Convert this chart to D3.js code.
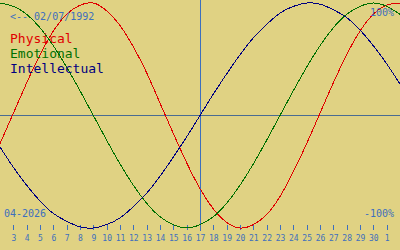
<!DOCTYPE html>
<html>
<head>
<meta charset="utf-8">
<script src="https://cdn.jsdelivr.net/npm/d3@7"></script>
<style>
  html, body { margin: 0; padding: 0; background: #e0d283; }
  svg { display: block; }
  text { font-family: "DejaVu Sans Mono", monospace; }
</style>
</head>
<body>
<svg class="Bio"></svg>
<script>
// days shown on the x axis (02 Apr .. 02 May), one point per day
const days = [2, 3, 4, 5, 6, 7, 8, 9, 10, 11, 12, 13, 14, 15, 16, 17, 18, 19, 20, 21, 22, 23, 24, 25, 26, 27, 28, 29, 30, 1, 2];
const today = 17;

// curve values in percent
const physical = [-25, 2, 29, 54, 75, 90, 98, 100, 93, 80, 61, 38, 11, -16, -42, -65, -83, -95, -100, -97, -88, -72, -50, -25, 2, 29, 54, 75, 90, 98, 100];
const emotional = [100, 97, 90, 78, 62, 43, 22, 0, -22, -43, -62, -78, -90, -97, -100, -97, -90, -78, -62, -43, -22, 0, 22, 43, 62, 78, 90, 97, 100, 97, 90];
const intellectual = [-28, -46, -62, -76, -87, -94, -99, -100, -97, -91, -81, -69, -54, -37, -19, 0, 19, 37, 54, 69, 81, 91, 97, 100, 99, 94, 87, 76, 62, 46, 28];

const seriesNames = ["Physical", "Emotional", "Intellectual"];
const seriesColors = ["#e00000", "#007000", "#000080"];

const birthLabel = "<-- 02/07/1992";
const monthLabel = "04-2026";
const topLabel = "100%";
const bottomLabel = "-100%";

function draw(){
    let width = 400, height = 250;
    let svg = d3.select(".Bio")
        .attr("width", width)
        .attr("height", height);

    svg.append("rect")
        .attr("width", width)
        .attr("height", height)
        .attr("fill", "#e0d283");

    let x = d3.scaleLinear().domain([0, days.length - 1]).range([0, width]);
    let y = d3.scaleLinear().domain([-100, 100]).range([228, 3]);

    // midline and today marker
    svg.append("line")
        .attr("x1", 0).attr("x2", width)
        .attr("y1", y(0)).attr("y2", y(0))
        .attr("stroke", "#4a6c92")
        .attr("shape-rendering", "crispEdges");

    let ti = days.indexOf(today);
    svg.append("line")
        .attr("x1", x(ti) + 0.5).attr("x2", x(ti) + 0.5)
        .attr("y1", 0).attr("y2", 231)
        .attr("stroke", "#3d6fbe")
        .attr("shape-rendering", "crispEdges");

    // day ticks
    let tickIdx = d3.range(1, days.length - 1);
    let ticks = svg.append("g").attr("class", "ticks");
    ticks.selectAll("line")
        .data(tickIdx)
        .join("line")
        .attr("x1", d => Math.round(x(d)) + 0.5)
        .attr("x2", d => Math.round(x(d)) + 0.5)
        .attr("y1", 225).attr("y2", 230)
        .attr("stroke", "#3d6fbe")
        .attr("shape-rendering", "crispEdges");
    ticks.selectAll("text")
        .data(tickIdx)
        .join("text")
        .attr("x", d => x(d) + 0.5)
        .attr("y", 241)
        .attr("text-anchor", "middle")
        .attr("font-size", 8)
        .attr("fill", "#3d6fbe")
        .text(d => days[d]);

    // curves
    let line = d3.line()
        .x((d, i) => x(i))
        .y(d => y(d))
        .curve(d3.curveNatural);

    svg.append("g").attr("class", "curves")
        .selectAll("path")
        .data([physical, emotional, intellectual])
        .join("path")
        .attr("d", line)
        .attr("fill", "none")
        .attr("stroke", (d, i) => seriesColors[i])
        .attr("stroke-width", 1)
        .attr("shape-rendering", "crispEdges");

    // labels
    svg.append("text")
        .attr("x", 10).attr("y", 20)
        .attr("font-size", 10)
        .attr("fill", "#3d6fbe")
        .text(birthLabel);

    svg.append("g").attr("class", "legend")
        .selectAll("text")
        .data(seriesNames)
        .join("text")
        .attr("x", 10)
        .attr("y", (d, i) => 43 + i * 15)
        .attr("font-size", 13)
        .attr("fill", (d, i) => seriesColors[i])
        .text(d => d);

    svg.append("text")
        .attr("x", 394).attr("y", 16)
        .attr("text-anchor", "end")
        .attr("font-size", 10)
        .attr("fill", "#3d6fbe")
        .text(topLabel);

    svg.append("text")
        .attr("x", 394).attr("y", 217)
        .attr("text-anchor", "end")
        .attr("font-size", 10)
        .attr("fill", "#3d6fbe")
        .text(bottomLabel);

    svg.append("text")
        .attr("x", 4).attr("y", 217)
        .attr("font-size", 10)
        .attr("fill", "#3d6fbe")
        .text(monthLabel);
}

draw();
</script>
</body>
</html>
